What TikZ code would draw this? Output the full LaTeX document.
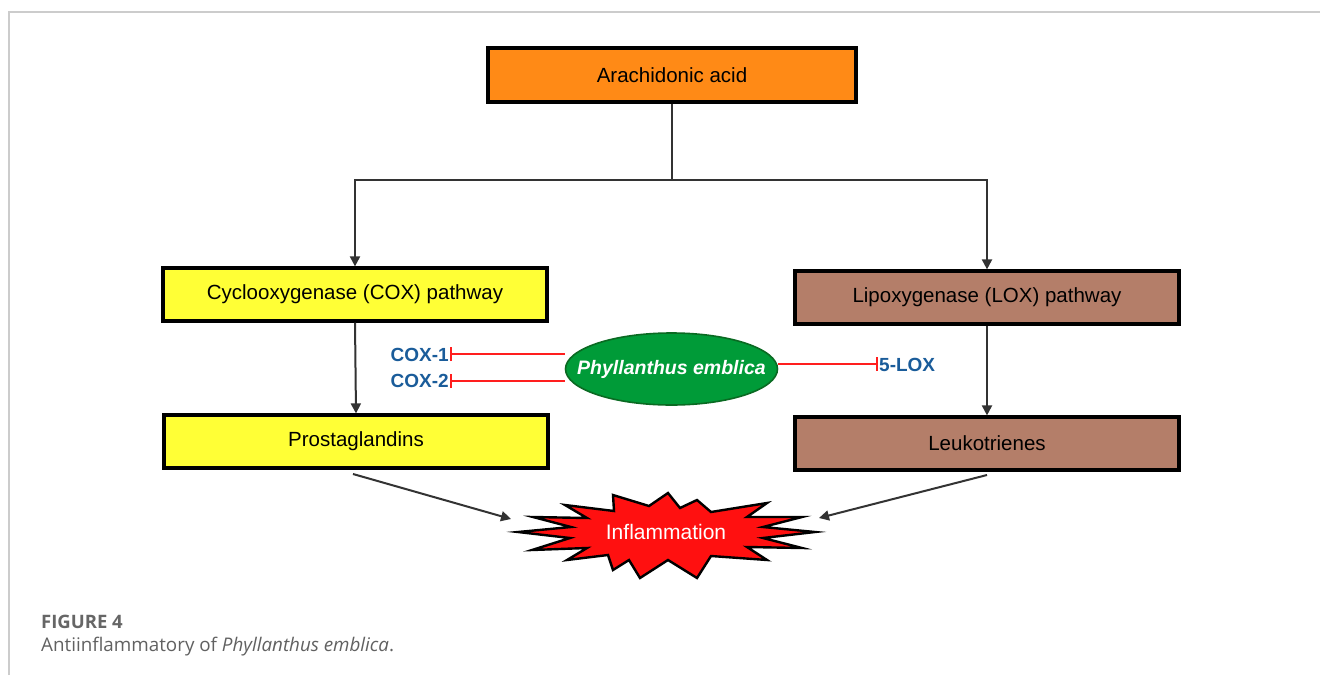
\documentclass[tikz,border=0pt]{standalone}
\usepackage{fontspec}
\setmainfont{Liberation Sans}
\newfontfamily\capfont{Open Sans}
\usetikzlibrary{arrows.meta,shapes.geometric}

\definecolor{aaorange}{HTML}{FF8A16}
\definecolor{coxyellow}{HTML}{FFFF36}
\definecolor{loxbrown}{HTML}{B47E69}
\definecolor{pegreen}{HTML}{009B38}
\definecolor{pedark}{HTML}{0A6A22}
\definecolor{enzblue}{HTML}{1A5C9A}
\definecolor{inhred}{HTML}{FF1E1E}
\definecolor{flamered}{HTML}{FF1010}
\definecolor{linkgray}{HTML}{333333}
\definecolor{framegray}{HTML}{CCCCCC}

\tikzset{
  pathbox/.style={draw=black, line width=3.2pt, minimum width=384pt, minimum height=53pt,
    inner sep=0pt, font=\fontsize{20.5}{24}\selectfont},
  flow/.style={draw=linkgray, line width=2pt, -{Triangle[length=10pt,width=10pt]}},
  plainflow/.style={draw=linkgray, line width=2pt},
  inhibit/.style={draw=inhred, line width=2pt, -{Bar[width=14pt,line width=2pt]}},
  enzyme/.style={text=enzblue, font=\fontsize{19}{22}\selectfont\bfseries, inner sep=1pt},
}

\begin{document}
\begin{tikzpicture}[x=1pt,y=-1pt]
  \useasboundingbox (0,0) rectangle (1320,675);
  \fill[white] (0,0) rectangle (1320,675);

  % page frame
  \draw[framegray, line width=2pt] (9,675) -- (9,12) -- (1320,12);

  % boxes
  \node[pathbox, fill=aaorange, minimum width=368pt, minimum height=54pt] (aa) at (672,75) {Arachidonic acid};
  \node[pathbox, fill=coxyellow] (cox) at (355,294.5) {Cyclooxygenase (COX) pathway};
  \node[pathbox, fill=loxbrown] (lox) at (987,297.5) {Lipoxygenase (LOX) pathway};
  \node[pathbox, fill=coxyellow] (pg) at (356,441.5) {Prostaglandins};
  \node[pathbox, fill=loxbrown] (lt) at (987,443.5) {Leukotrienes};

  % branching from arachidonic acid
  \coordinate (split) at (672,180);
  \draw[plainflow] (aa.south) -- (split);
  \draw[flow, line join=miter] (split) -- (cox.north |- split) -- (cox.north);
  \draw[flow, line join=miter] (split) -- (lox.north |- split) -- (lox.north);

  % pathways to products
  \draw[flow] (cox.south) -- (pg.north);
  \draw[flow] (lox.south) -- (lt.north);

  % Phyllanthus emblica
  \node[ellipse, draw=pedark, line width=1.6pt, fill=pegreen, minimum width=212pt, minimum height=72pt,
    inner sep=0pt] (pe) at (671.5,369) {};
  \node[text=white, inner sep=0pt, font=\fontsize{19.5}{22}\selectfont\bfseries\itshape] (pelabel) at (pe.center) {Phyllanthus emblica};

  \node[enzyme, anchor=east] (cox1) at (450,355) {COX-1};
  \node[enzyme, anchor=east] (cox2) at (450,381) {COX-2};
  \node[enzyme, anchor=west] (lox5) at (878,365) {5-LOX};

  \draw[inhibit] (pe.west |- 0,354) -- (cox1.east |- 0,354);
  \draw[inhibit] (pe.west |- 0,381) -- (cox2.east |- 0,381);
  \draw[inhibit] (pe.east |- 0,364) -- (lox5.west |- 0,364);

  % inflammation burst
  \draw[black, line width=2.4pt, fill=flamered, line join=miter, miter limit=20]
    (518,532) -- (571,527) -- (533,517) -- (587,518) -- (565,505) -- (614,511) --
    (613,495) -- (649,506) -- (668,493) -- (680,508) -- (697,500) -- (711,512) --
    (767,503) -- (747,517) -- (802,517) -- (763,527) -- (815,532) -- (763,538) --
    (802,548) -- (747,547) -- (767,560) -- (711,556) -- (697,578) -- (668,560) --
    (640,578) -- (629,560) -- (613,570) -- (608,555) -- (567,560) -- (587,548) --
    (532,550) -- (570,538) -- cycle;
  \node[text=white, font=\fontsize{21}{24}\selectfont, inner sep=0pt] (infl) at (666,532) {Inflammation};

  \coordinate (pgfoot) at (353,474);
  \coordinate (ltfoot) at (987,475);
  \coordinate (inflL) at (511,519);
  \coordinate (inflR) at (819,518);
  \draw[flow] (pgfoot) -- (inflL);
  \draw[flow] (ltfoot) -- (inflR);

  % caption
  \node[anchor=base west, inner sep=0pt, text=black!60, font=\capfont\fontsize{18.5}{22}\selectfont\bfseries] (fig) at (41,628) {FIGURE 4};
  \node[anchor=base west, inner sep=0pt, text=black!62, font=\capfont\fontsize{18.8}{22}\selectfont] (cap) at (41,651) {Antiinflammatory of \textit{Phyllanthus emblica}.};
\end{tikzpicture}
\end{document}
